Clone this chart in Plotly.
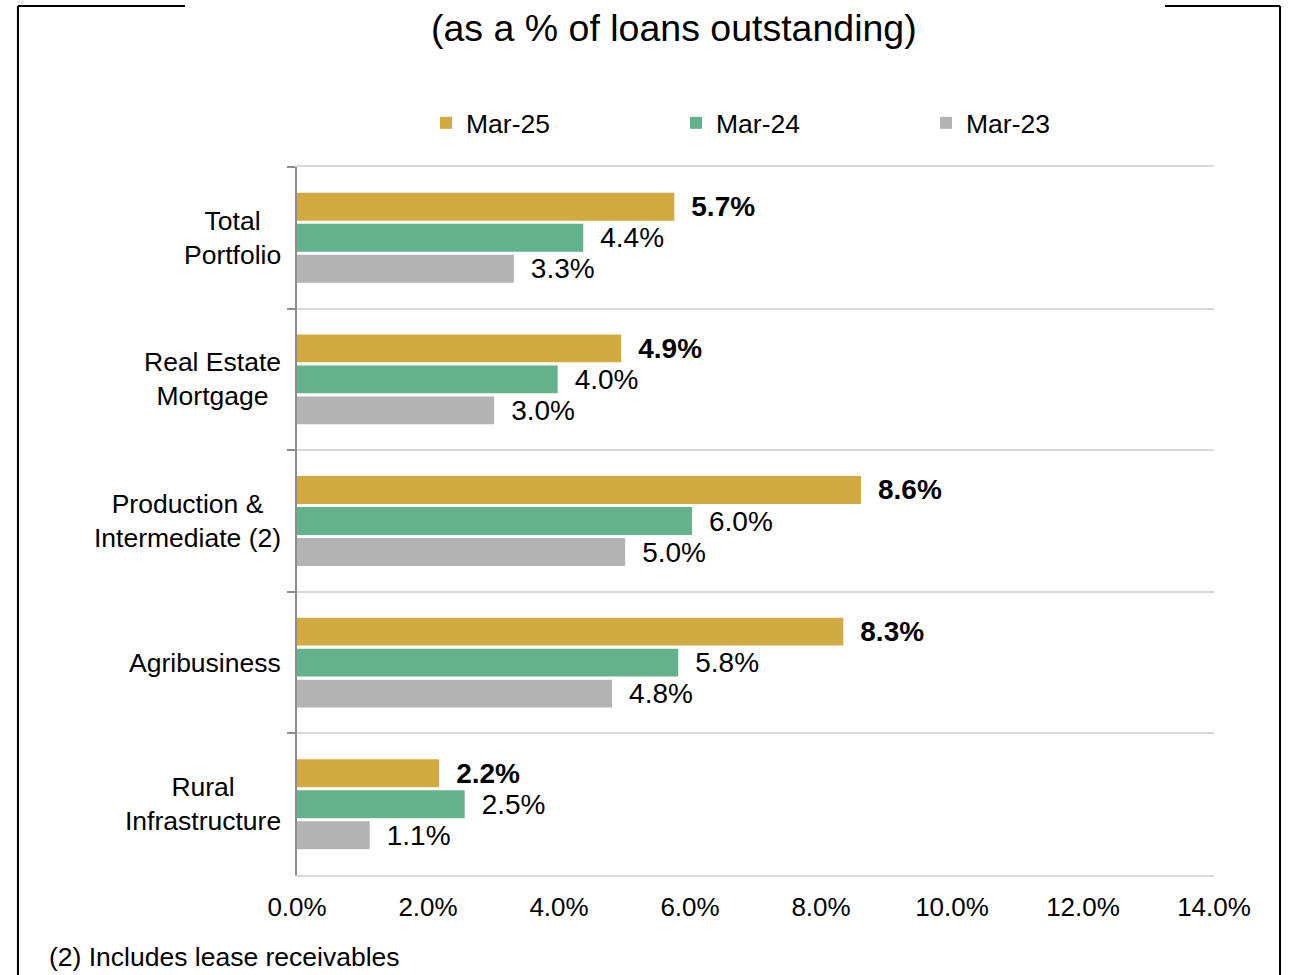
import plotly.graph_objects as go

categories = ["Total<br>Portfolio", "Real Estate<br>Mortgage", "Production &<br>Intermediate (2)",
              "Agribusiness", "Rural<br>Infrastructure"]
series_names = ["Mar-25", "Mar-24", "Mar-23"]
# bar lengths (percent of loans outstanding)
mar25 = [5.76, 4.95, 8.61, 8.34, 2.17]
mar24 = [4.37, 3.98, 6.03, 5.82, 2.56]
mar23 = [3.31, 3.01, 5.01, 4.81, 1.11]
# data labels as printed
mar25_labels = ["5.7%", "4.9%", "8.6%", "8.3%", "2.2%"]
mar24_labels = ["4.4%", "4.0%", "6.0%", "5.8%", "2.5%"]
mar23_labels = ["3.3%", "3.0%", "5.0%", "4.8%", "1.1%"]
x_ticks = [0, 2, 4, 6, 8, 10, 12, 14]
x_tick_labels = ["0.0%", "2.0%", "4.0%", "6.0%", "8.0%", "10.0%", "12.0%", "14.0%"]
subtitle = "(as a % of loans outstanding)"
footnote = "(2) Includes lease receivables"

colors = ["#D1AA42", "#64B28C", "#B3B3B3"]
FONT = "Liberation Sans, Arial, sans-serif"

fig = go.Figure()
series = [(mar25, mar25_labels), (mar24, mar24_labels), (mar23, mar23_labels)]
for i, (name, (vals, labs)) in enumerate(zip(series_names, series)):
    if i == 0:
        txt = ["\u2002<b>%s</b>" % s for s in labs]
    else:
        txt = ["\u2002%s" % s for s in labs]
    fig.add_trace(go.Bar(
        name=name, y=categories, x=vals, orientation="h",
        marker=dict(color=colors[i], line=dict(width=0)),
        text=txt, textposition="outside", constraintext="none",
        textfont=dict(size=28, color="black", family=FONT),
        cliponaxis=False, hoverinfo="skip",
    ))

annotations = []
for c in categories:
    annotations.append(dict(text=c, x=0, xref="x", y=c, yref="y", xanchor="right",
                            xshift=-14, align="center", showarrow=False,
                            font=dict(size=26.5, color="black", family=FONT)))
annotations.append(dict(text=subtitle, xref="paper", yref="paper", x=0.411, y=1.196,
                        xanchor="center", yanchor="middle", showarrow=False,
                        font=dict(size=37.5, color="black", family=FONT)))
annotations.append(dict(text=footnote, xref="paper", yref="paper", x=-0.2726, y=-0.1158,
                        xanchor="left", yanchor="middle", showarrow=False,
                        font=dict(size=26.5, color="black", family=FONT)))

frame = dict(color="black", width=2)
shapes = [
    dict(type="line", xref="paper", yref="paper", x0=-0.3043, x1=-0.3043, y0=1.2274, y1=-0.25, line=frame),
    dict(type="line", xref="paper", yref="paper", x0=1.0720, x1=1.0720, y0=1.2274, y1=-0.25, line=frame),
    dict(type="line", xref="paper", yref="paper", x0=-0.3043, x1=-0.1221, y0=1.2274, y1=1.2274, line=frame),
    dict(type="line", xref="paper", yref="paper", x0=0.9466, x1=1.0720, y0=1.2274, y1=1.2274, line=frame),
]

fig.update_layout(
    width=1289, height=975,
    margin=dict(l=297, r=75, t=167, b=100),
    paper_bgcolor="white", plot_bgcolor="white",
    barmode="group", bargap=0.343, bargroupgap=0.1,
    font=dict(family=FONT, size=26, color="black"),
    showlegend=True,
    legend=dict(orientation="h", x=0.1407, xanchor="left", y=1.062, yanchor="middle",
                entrywidth=205, entrywidthmode="pixels",
                font=dict(size=26.5, color="black", family=FONT), itemclick=False),
    annotations=annotations, shapes=shapes,
    xaxis=dict(range=[0, 14], tickvals=x_ticks, ticktext=x_tick_labels, showgrid=False,
               zeroline=False, showline=True, linecolor="#D9D9D9", linewidth=1.5, mirror=True,
               ticks="", ticklabelstandoff=8, tickfont=dict(size=26, color="black", family=FONT)),
    yaxis=dict(type="category", autorange="reversed", tickson="boundaries", showticklabels=False,
               showgrid=True, gridcolor="#D9D9D9", gridwidth=1.5, ticks="outside", ticklen=8,
               tickcolor="#8C8C8C", tickwidth=2, showline=True, linecolor="#8C8C8C", linewidth=2,
               zeroline=False),
)

fig.write_html("out.html")
